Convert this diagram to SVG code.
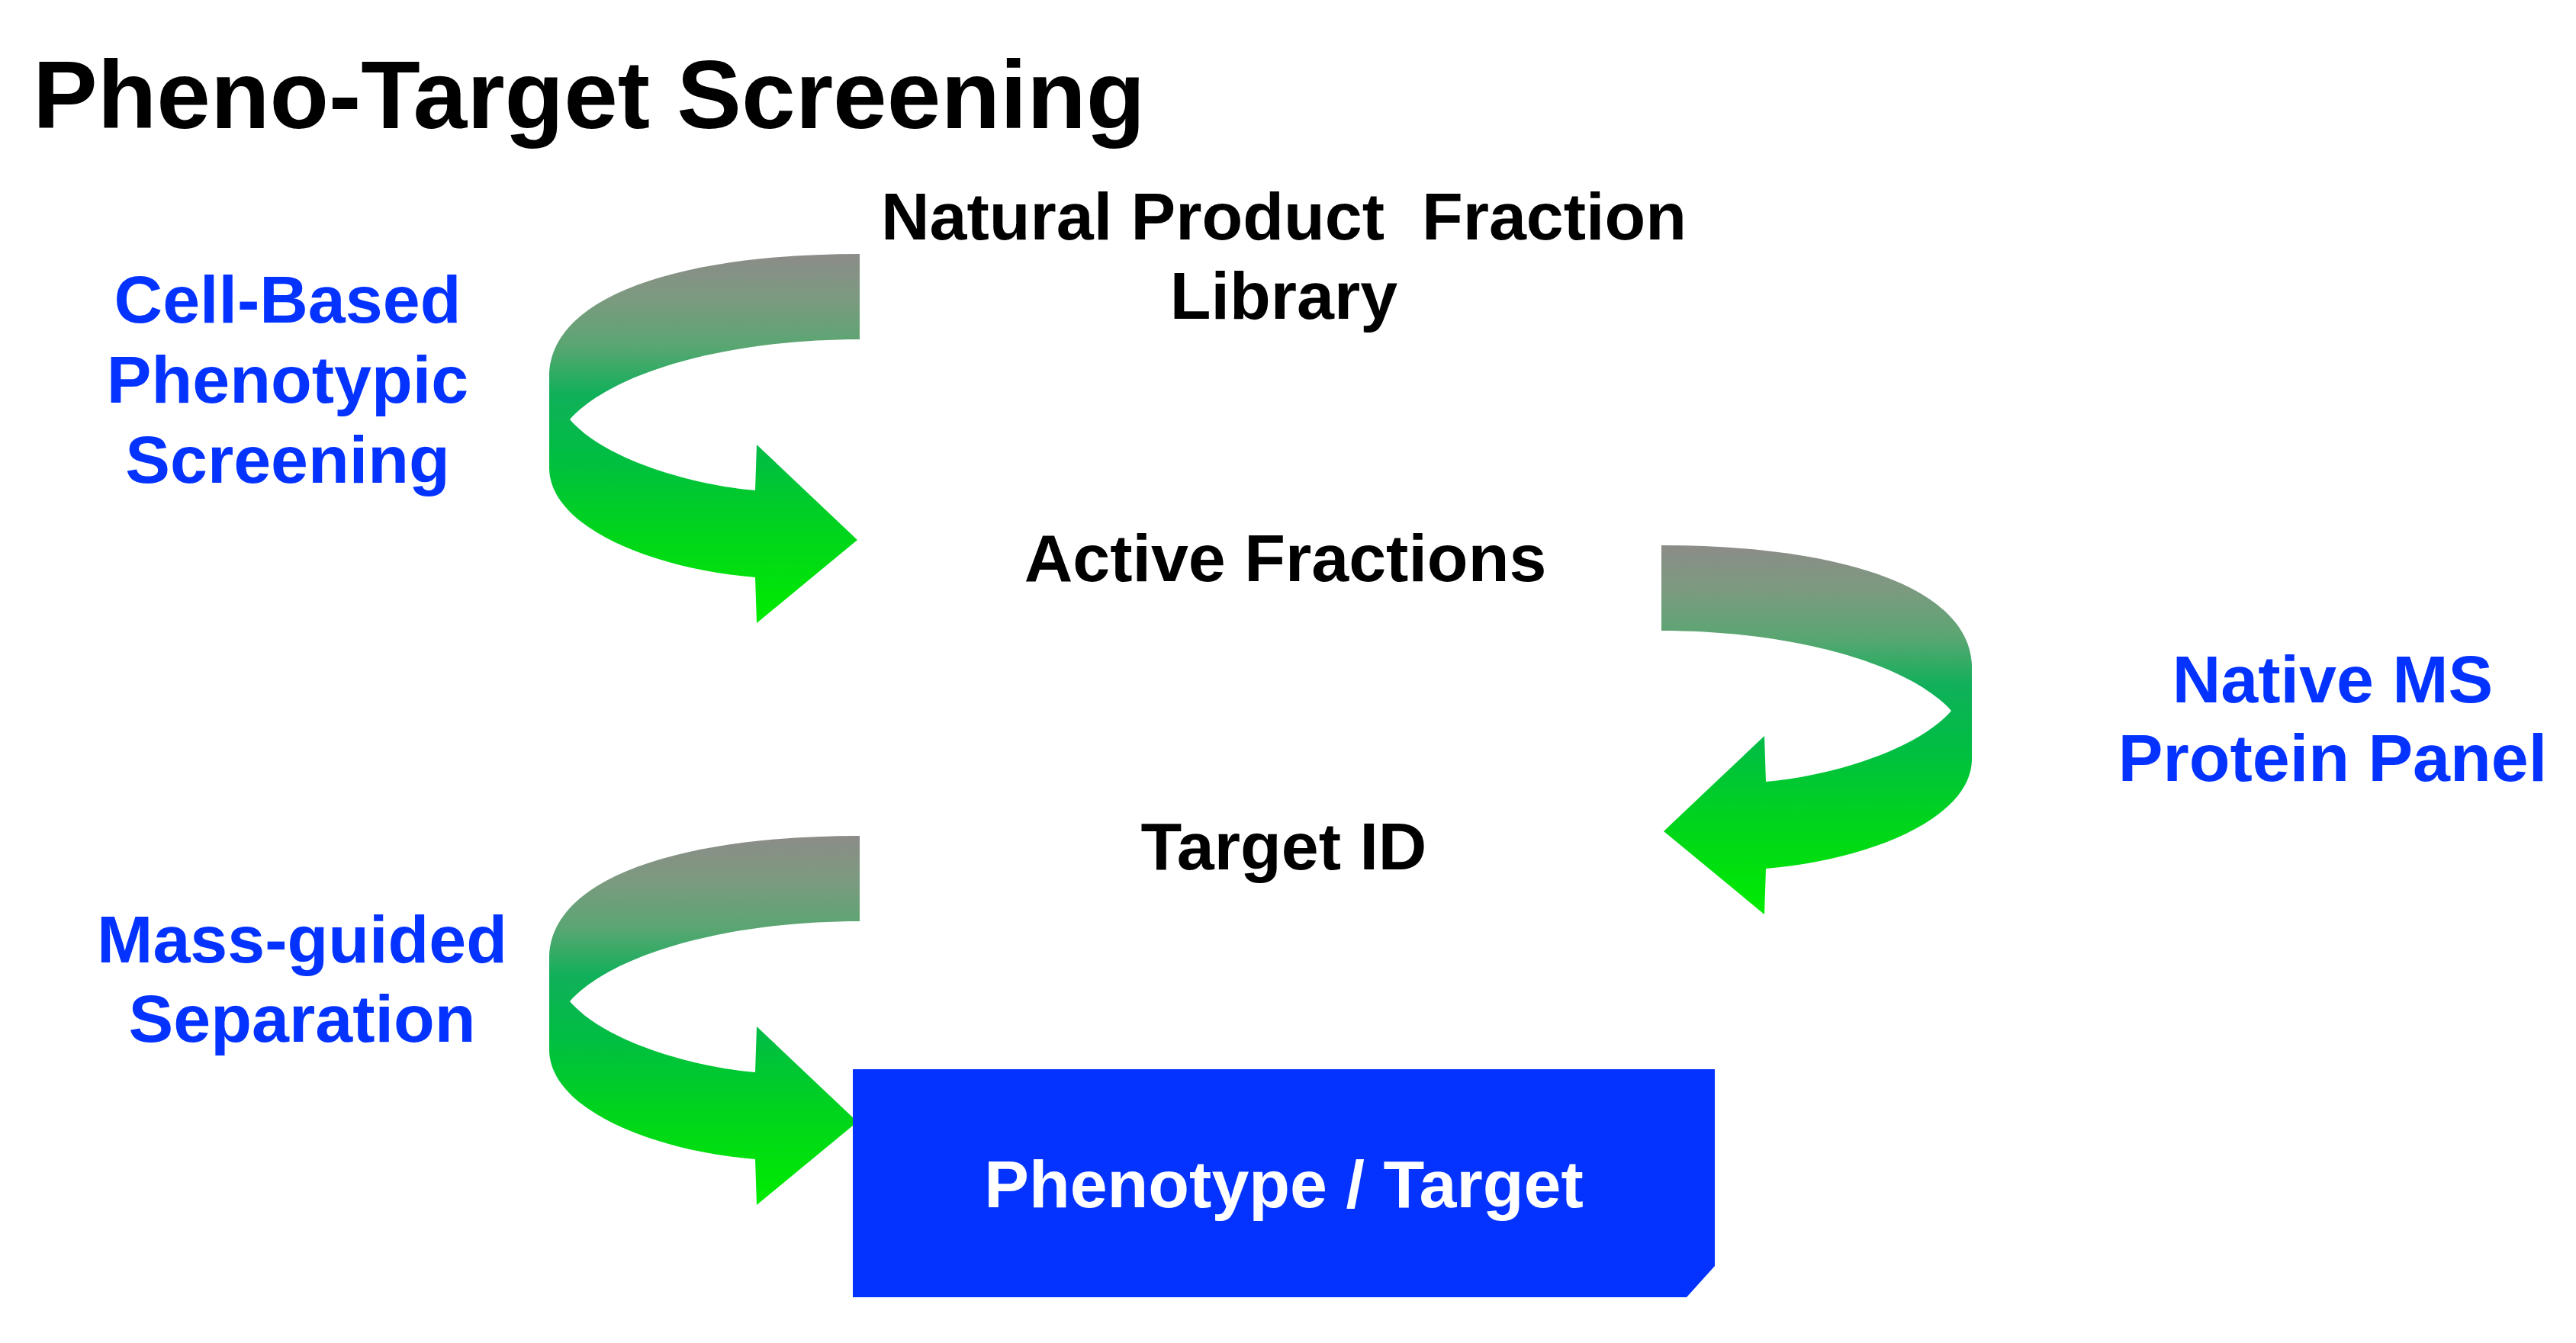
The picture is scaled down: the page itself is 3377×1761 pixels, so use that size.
<svg xmlns="http://www.w3.org/2000/svg" width="3377" height="1761" viewBox="0 0 3377 1761">
<style>
text{font-family:"Liberation Sans",Arial,Helvetica,sans-serif;font-weight:bold;font-size:88px;text-anchor:middle}
.blk{fill:#000}
.blu{fill:#0433ff}
.wht{fill:#fff}
.title{font-size:127px;text-anchor:start}
.arrow{fill:url(#grad)}
</style>
<defs>
<linearGradient id="grad" x1="0" y1="0" x2="0" y2="1">
<stop offset="0" stop-color="#8c8c88"/>
<stop offset="0.12" stop-color="#7c9a80"/>
<stop offset="0.25" stop-color="#5aa672"/>
<stop offset="0.38" stop-color="#10b05a"/>
<stop offset="0.55" stop-color="#00be42"/>
<stop offset="0.75" stop-color="#00d41c"/>
<stop offset="1" stop-color="#00ec00"/>
</linearGradient>
<path id="curl" d="M 1127 333 C 900 333 724 385 720 490 L 720 615 C 722 690 850 745 990 757 L 992 817 L 1124 708 L 992 583 L 990 643 C 900 635 790 600 747 550 C 800 490 950 445 1127 445 Z"/>
</defs>
<rect width="3377" height="1761" fill="#fff"/>
<text class="blk title" x="43" y="168">Pheno-Target Screening</text>
<g id="connectors">
<use href="#curl" class="arrow"/>
<use href="#curl" class="arrow" transform="translate(3305,382) scale(-1,1)"/>
<use href="#curl" class="arrow" transform="translate(0,763)"/>
</g>
<g id="node-library">
<text class="blk" x="1683" y="314" xml:space="preserve">Natural Product  Fraction</text>
<text class="blk" x="1683" y="418">Library</text>
</g>
<g id="node-active">
<text class="blk" x="1685" y="762">Active Fractions</text>
</g>
<g id="node-target">
<text class="blk" x="1683" y="1140">Target ID</text>
</g>
<g id="node-result">
<polygon points="1118,1402 2248,1402 2248,1660 2211,1701 1118,1701" fill="#0433ff"/>
<text class="wht" x="1683" y="1583">Phenotype / Target</text>
</g>
<g id="label-cell">
<text class="blu" x="377" y="423">Cell-Based</text>
<text class="blu" x="377" y="528">Phenotypic</text>
<text class="blu" x="377" y="633">Screening</text>
</g>
<g id="label-native">
<text class="blu" x="3058" y="921">Native MS</text>
<text class="blu" x="3058" y="1024">Protein Panel</text>
</g>
<g id="label-mass">
<text class="blu" x="396" y="1262">Mass-guided</text>
<text class="blu" x="396" y="1366">Separation</text>
</g>
</svg>
